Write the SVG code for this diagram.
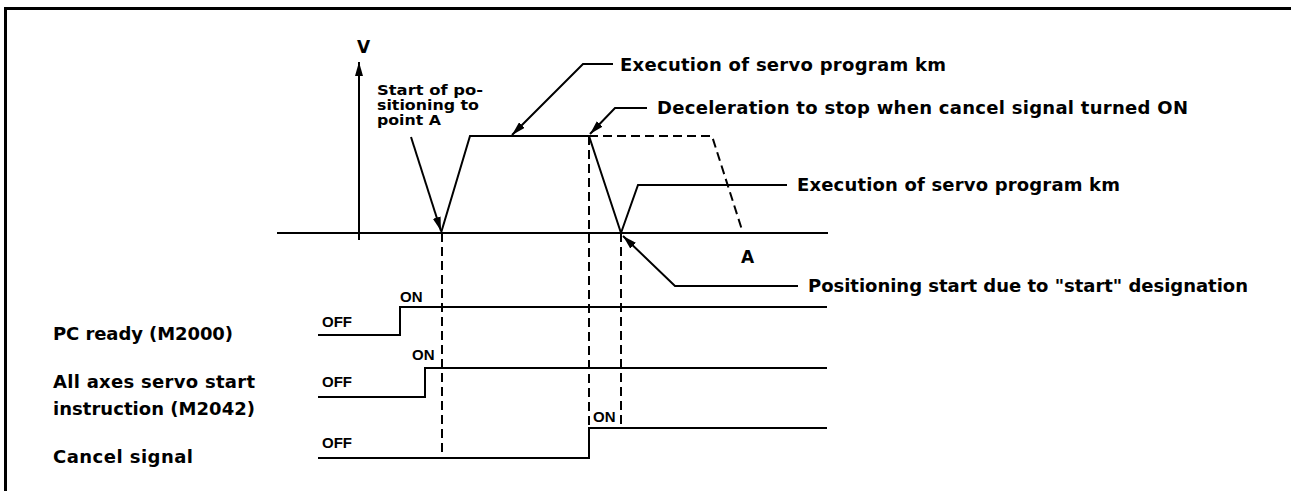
<svg xmlns="http://www.w3.org/2000/svg" width="1291" height="491" viewBox="0 0 1291 491">
<defs>
<marker id="ah" viewBox="0 0 14 8" refX="14" refY="4" markerWidth="14" markerHeight="8" markerUnits="userSpaceOnUse" orient="auto">
<path d="M0,0 L14,4 L0,8 z" fill="#000"/>
</marker>
</defs>
<style>
.ln{fill:none;stroke:#000;stroke-width:2}
.ds{fill:none;stroke:#000;stroke-width:2;stroke-dasharray:9 5}
.t{font-family:"DejaVu Sans",sans-serif;font-weight:bold;font-size:18px;fill:#000}
.m{font-family:"DejaVu Sans",sans-serif;font-weight:bold;font-size:14.5px;fill:#000}
.s{font-family:"Liberation Sans",Arial,sans-serif;font-weight:bold;font-size:15px;fill:#000}
</style>
<rect width="1291" height="491" fill="#fff"/>
<g id="frame">
<line x1="5" y1="8.5" x2="1291" y2="8.5" stroke="#000" stroke-width="3"/>
<line x1="5.5" y1="7" x2="5.5" y2="491" stroke="#000" stroke-width="3"/>
</g>
<g id="axes">
<line class="ln" x1="359" y1="240" x2="359" y2="62" marker-end="url(#ah)"/>
<line class="ln" x1="277" y1="233" x2="828" y2="233"/>
<text class="t" x="357" y="53" style="font-size:17px">V</text>
<text class="t" x="741" y="263" style="font-size:17px">A</text>
</g>
<g id="profile">
<polyline class="ln" points="441,233 470,136 589,136 621,233 638,185 787,185"/>
<polyline class="ds" points="589,136 712,136 743,233"/>
</g>
<g id="guides">
<line class="ds" x1="442" y1="233" x2="442" y2="458"/>
<line class="ds" x1="589" y1="136" x2="589" y2="428"/>
<line class="ds" x1="621" y1="233" x2="621" y2="425"/>
</g>
<g id="connectors">
<polyline class="ln" points="411,137 441,231" marker-end="url(#ah)"/>
<polyline class="ln" points="613,64 583,64 512,135" marker-end="url(#ah)"/>
<polyline class="ln" points="647,108 615,108 590,134" marker-end="url(#ah)"/>
<polyline class="ln" points="798,286 675,286 623,236" marker-end="url(#ah)"/>
</g>
<g id="note-start">
<text class="m" x="377" y="95" textLength="106" lengthAdjust="spacingAndGlyphs">Start of po-</text>
<text class="m" x="377" y="110" textLength="102" lengthAdjust="spacingAndGlyphs">sitioning to</text>
<text class="m" x="377" y="125" textLength="64" lengthAdjust="spacingAndGlyphs">point A</text>
</g>
<g id="note-exec1"><text class="t" x="620" y="71" textLength="326">Execution of servo program km</text></g>
<g id="note-decel"><text class="t" x="657" y="114" textLength="531">Deceleration to stop when cancel signal turned ON</text></g>
<g id="note-exec2"><text class="t" x="797" y="191" textLength="323">Execution of servo program km</text></g>
<g id="note-pos"><text class="t" x="808" y="292" textLength="440">Positioning start due to "start" designation</text></g>
<g id="sig-pc">
<polyline class="ln" points="318,335 400,335 400,307 827,307"/>
<text class="s" x="322" y="327">OFF</text>
<text class="s" x="400" y="302">ON</text>
<text class="t" x="53" y="340" textLength="180">PC ready (M2000)</text>
</g>
<g id="sig-axes">
<polyline class="ln" points="318,397 425,397 425,368 827,368"/>
<text class="s" x="322" y="387">OFF</text>
<text class="s" x="412" y="360">ON</text>
<text class="t" x="53" y="388" textLength="202">All axes servo start</text>
<text class="t" x="53" y="415" textLength="202">instruction (M2042)</text>
</g>
<g id="sig-cancel">
<polyline class="ln" points="318,458 589,458 589,428 827,428"/>
<text class="s" x="322" y="448">OFF</text>
<text class="s" x="593" y="422">ON</text>
<text class="t" x="53" y="463" textLength="140">Cancel signal</text>
</g>
</svg>
